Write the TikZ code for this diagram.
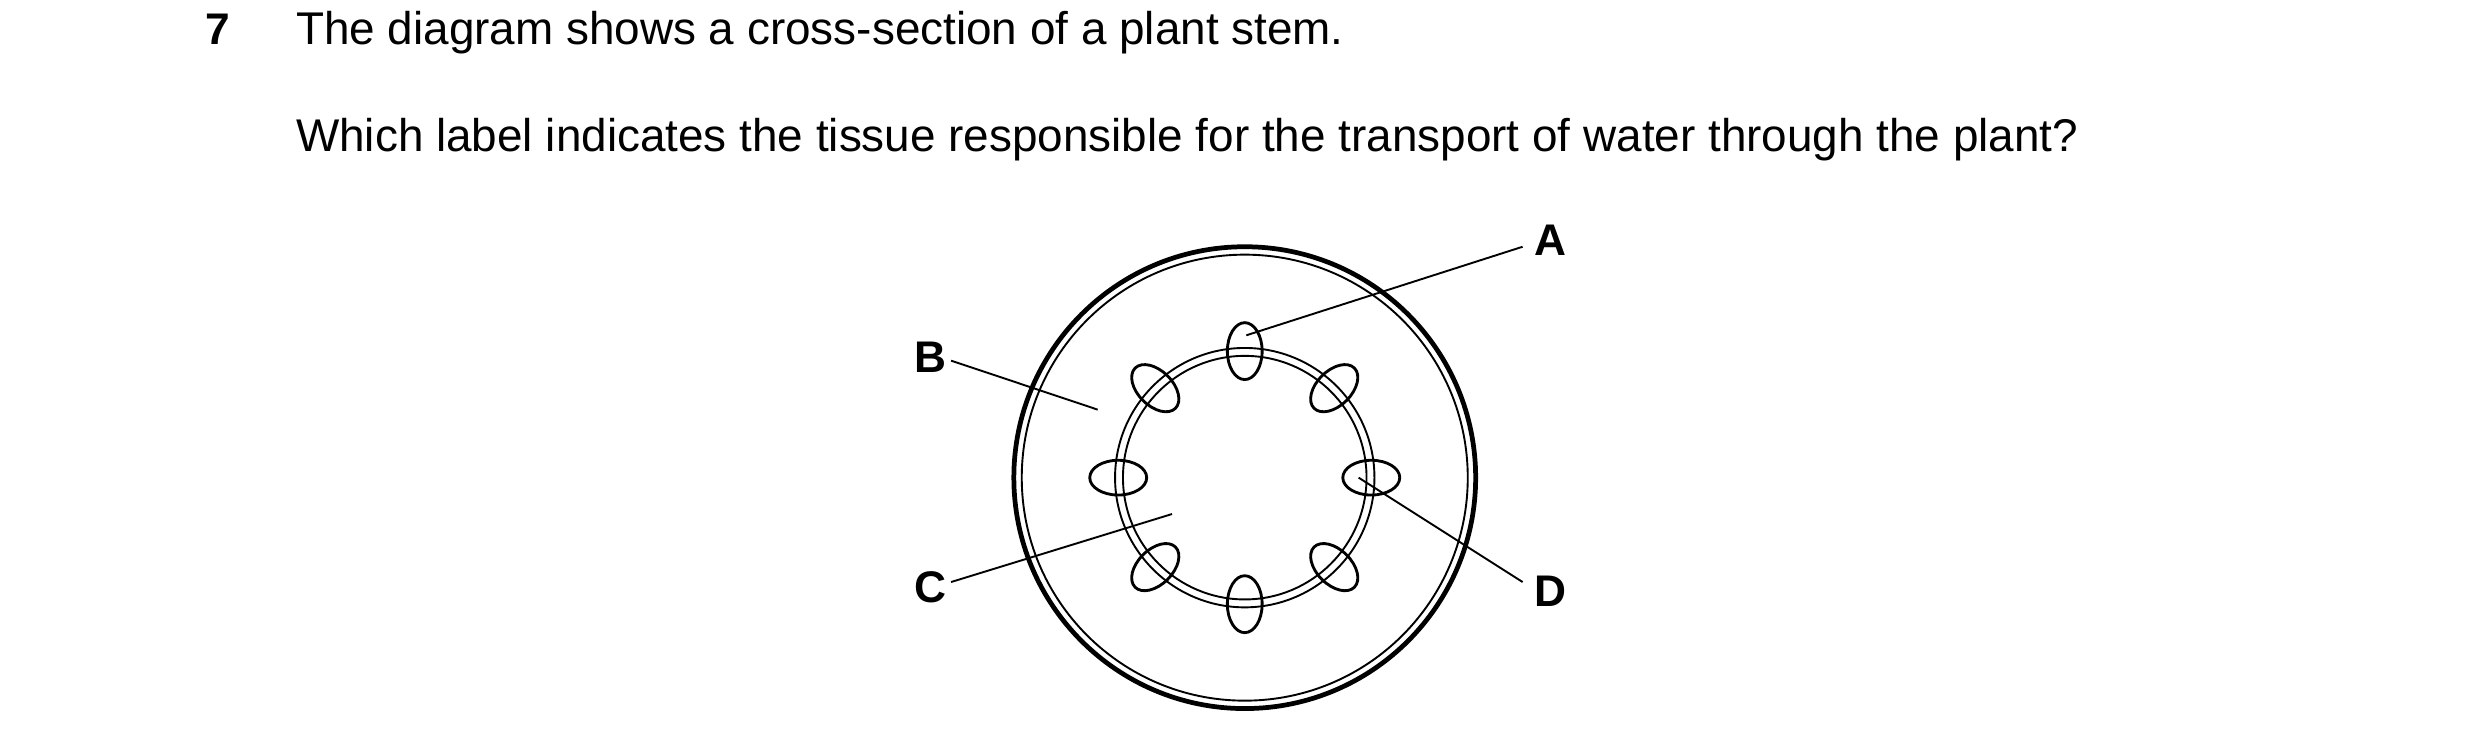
\documentclass[tikz,border=0pt]{standalone}
\usepackage{fontspec}
\setmainfont{Liberation Sans}
\usetikzlibrary{calc}
\begin{document}
\begin{tikzpicture}[x=1pt,y=-1pt,
  txt/.style={anchor=base west,inner sep=0pt,font=\fontsize{29}{34}\selectfont},
  lab/.style={inner sep=0pt,font=\fontsize{28}{33}\selectfont\bfseries},
  thin/.style={line width=1.2pt},
  bund/.style={line width=1.8pt}]
\useasboundingbox (0,0) rectangle (1568,473);
\node[txt,font=\fontsize{28}{33}\selectfont\bfseries] (n) at (130,28) {7};
\node[txt] (t1) at (187,28) {The diagram shows a cross-section of a plant stem.};
\node[txt] (t2) at (187,96) {Which label indicates the tissue responsible for the transport of water through the plant?};
\coordinate (o) at (787,302);
\draw[line width=3pt] (o) circle (146);
\draw[thin] (o) circle (141);
\draw[thin] (o) circle (82);
\draw[thin] (o) circle (77);
\foreach \a in {0,45,...,315}{
  \draw[bund] ($(o)+(\a:80)$) ellipse [x radius=18,y radius=11,rotate=-\a];
}
\node[lab] (A) at (980,152) {A};
\node[lab] (B) at (588,226) {B};
\node[lab] (C) at (588,371) {C};
\node[lab] (D) at (980,374) {D};
\coordinate (pa) at (788,212);
\coordinate (pb) at (694,259);
\coordinate (pc) at (741,325);
\coordinate (pd) at (859,302);
\draw[thin] (A.west)++(-7,4) -- (pa);
\draw[thin] (B.east)++(3,2) -- (pb);
\draw[thin] (C.east)++(3,-3) -- (pc);
\draw[thin] (D.west)++(-7,-6) -- (pd);
\end{tikzpicture}
\end{document}
